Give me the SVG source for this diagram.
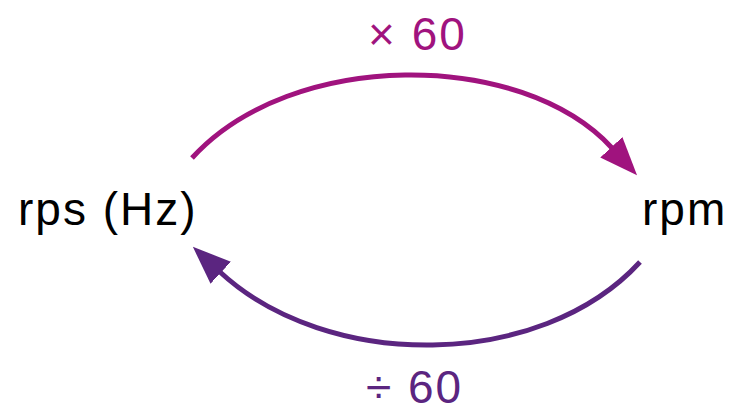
<svg xmlns="http://www.w3.org/2000/svg" width="735" height="412" viewBox="0 0 735 412">
<style>
.lbl{font-family:"Liberation Sans",Arial,sans-serif;font-size:46px;fill:#000;letter-spacing:2px}
.op{font-family:"Liberation Sans",Arial,sans-serif;font-size:46px;letter-spacing:2px}
.arc{fill:none;stroke-width:5}
</style>
<defs>
<marker id="ahTop" viewBox="0 0 38 30" refX="1" refY="15" markerWidth="38" markerHeight="30" markerUnits="userSpaceOnUse" orient="auto"><path d="M0,0 L38,15 L0,30 z" fill="#a0137e"/></marker>
<marker id="ahBot" viewBox="0 0 38 30" refX="1" refY="15" markerWidth="38" markerHeight="30" markerUnits="userSpaceOnUse" orient="auto"><path d="M0,0 L38,15 L0,30 z" fill="#5b2580"/></marker>
</defs>
<g id="connectors">
<path class="arc" stroke="#a0137e" d="M192,158 C291,49 521,49 612,148" marker-end="url(#ahTop)"/>
<path class="arc" stroke="#5b2580" d="M640,262 C540,371 327,371 220,272" marker-end="url(#ahBot)"/>
</g>
<g id="rps"><text class="lbl" x="18" y="225">rps (Hz)</text></g>
<g id="rpm"><text class="lbl" x="642" y="225">rpm</text></g>
<g id="times60"><text class="op" x="368" y="50" fill="#a0137e">× 60</text></g>
<g id="div60"><text class="op" x="366" y="403" fill="#5b2580">÷ 60</text></g>
</svg>
